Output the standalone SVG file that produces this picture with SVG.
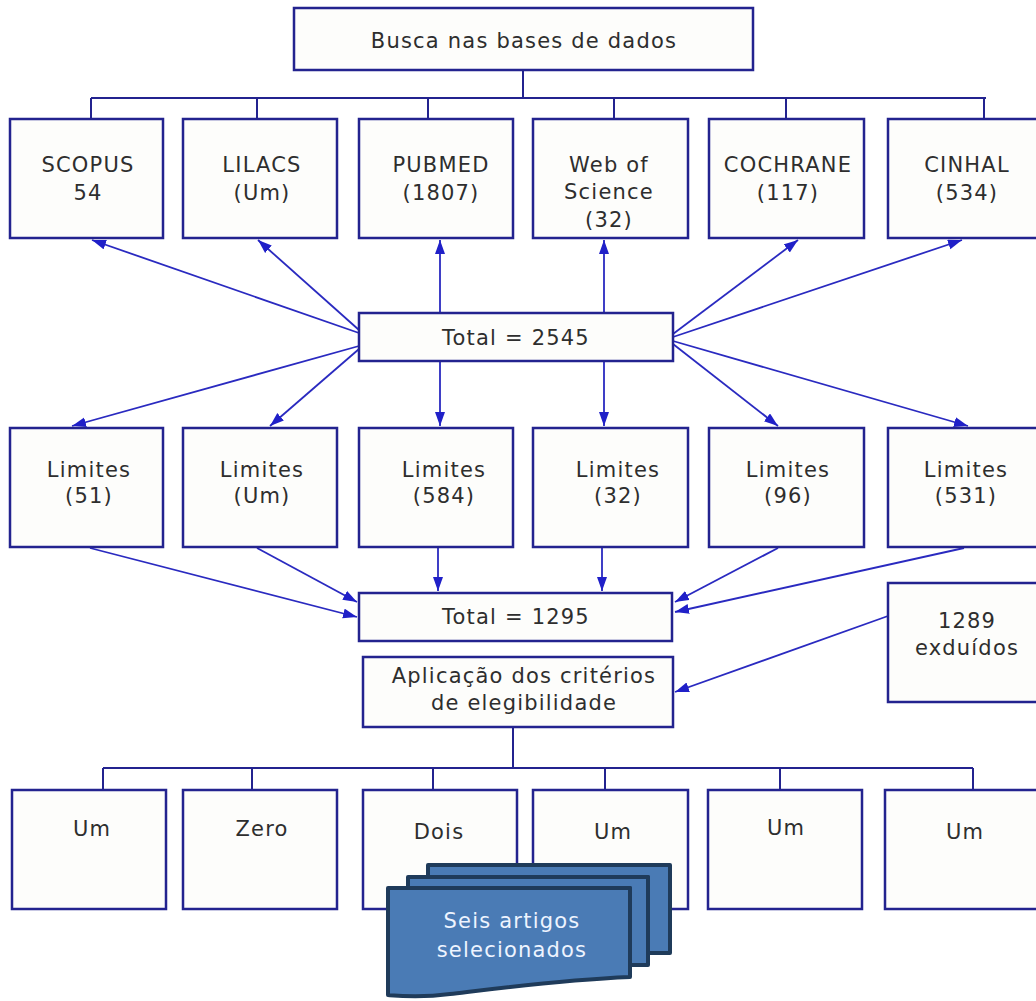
<svg xmlns="http://www.w3.org/2000/svg" width="1036" height="1001" viewBox="0 0 1036 1001">
<defs>
<style>
.box{fill:#fdfdfb;stroke:#23238f;stroke-width:2.5}
.t{font-family:"DejaVu Sans","Verdana",sans-serif;font-size:21px;letter-spacing:1.2px;fill:#2e2e2e;text-anchor:middle}
.ln{fill:none;stroke:#23238f;stroke-width:2}
.ar{fill:none;stroke:#2a2ac0;stroke-width:1.8;marker-end:url(#ah)}
.doc{fill:#4a7bb5;stroke:#1f3b5a;stroke-width:4;stroke-linejoin:round}
.dt{font-family:"DejaVu Sans","Verdana",sans-serif;font-size:21px;letter-spacing:1.2px;fill:#eef4ff;text-anchor:middle}
</style>
<marker id="ah" markerUnits="userSpaceOnUse" markerWidth="16" markerHeight="12" refX="14" refY="5" orient="auto">
<path d="M0,0 L14,5 L0,10 z" fill="#2020c8"/>
</marker>
</defs>
<rect width="1036" height="1001" fill="#ffffff"/>

<g id="connectors">
<path class="ln" d="M523,70 V98 M91,98 H986 M91,98 V119 M257,98 V119 M428,98 V119 M614,98 V119 M786,98 V119 M984,98 V119"/>
<path class="ar" d="M359,333 L92,240"/>
<path class="ar" d="M359,330 L258,240"/>
<path class="ar" d="M440,313 V240"/>
<path class="ar" d="M604,313 V240"/>
<path class="ar" d="M673,334 L798,240"/>
<path class="ar" d="M673,337 L962,240"/>
<path class="ar" d="M359,346 L72,426"/>
<path class="ar" d="M359,349 L270,426"/>
<path class="ar" d="M440,361 V426"/>
<path class="ar" d="M604,361 V426"/>
<path class="ar" d="M673,344 L778,426"/>
<path class="ar" d="M673,341 L968,426"/>
<path class="ar" d="M90,548 L357,617"/>
<path class="ar" d="M257,548 L357,602"/>
<path class="ar" d="M438,548 V591"/>
<path class="ar" d="M602,548 V591"/>
<path class="ar" d="M778,548 L675,602"/>
<path class="ar" d="M964,548 L675,612"/>
<path class="ar" d="M888,616 L675,692"/>
<path class="ln" d="M513,727 V768 M103,768 H973 M103,768 V790 M252,768 V790 M433,768 V790 M605,768 V790 M780,768 V790 M973,768 V790"/>
</g>

<g id="n-busca"><rect class="box" x="294" y="8" width="459" height="62"/><text class="t" x="524" y="48">Busca nas bases de dados</text></g>

<g id="n-scopus"><rect class="box" x="10" y="119" width="153" height="119"/><text class="t" x="88" y="172">SCOPUS</text><text class="t" x="88" y="200">54</text></g>
<g id="n-lilacs"><rect class="box" x="183" y="119" width="154" height="119"/><text class="t" x="262" y="172">LILACS</text><text class="t" x="262" y="200">(Um)</text></g>
<g id="n-pubmed"><rect class="box" x="359" y="119" width="154" height="119"/><text class="t" x="441" y="172">PUBMED</text><text class="t" x="441" y="200">(1807)</text></g>
<g id="n-wos"><rect class="box" x="533" y="119" width="155" height="119"/><text class="t" x="609" y="172">Web of</text><text class="t" x="609" y="199">Science</text><text class="t" x="609" y="227">(32)</text></g>
<g id="n-cochrane"><rect class="box" x="709" y="119" width="155" height="119"/><text class="t" x="788" y="172">COCHRANE</text><text class="t" x="788" y="200">(117)</text></g>
<g id="n-cinhal"><rect class="box" x="888" y="119" width="160" height="119"/><text class="t" x="967" y="172">CINHAL</text><text class="t" x="967" y="200">(534)</text></g>

<g id="n-total1"><rect class="box" x="359" y="313" width="314" height="48"/><text class="t" x="516" y="345">Total = 2545</text></g>

<g id="n-lim1"><rect class="box" x="10" y="428" width="153" height="119"/><text class="t" x="89" y="477">Limites</text><text class="t" x="89" y="503">(51)</text></g>
<g id="n-lim2"><rect class="box" x="183" y="428" width="154" height="119"/><text class="t" x="262" y="477">Limites</text><text class="t" x="262" y="503">(Um)</text></g>
<g id="n-lim3"><rect class="box" x="359" y="428" width="154" height="119"/><text class="t" x="444" y="477">Limites</text><text class="t" x="444" y="503">(584)</text></g>
<g id="n-lim4"><rect class="box" x="533" y="428" width="155" height="119"/><text class="t" x="618" y="477">Limites</text><text class="t" x="618" y="503">(32)</text></g>
<g id="n-lim5"><rect class="box" x="709" y="428" width="155" height="119"/><text class="t" x="788" y="477">Limites</text><text class="t" x="788" y="503">(96)</text></g>
<g id="n-lim6"><rect class="box" x="888" y="428" width="160" height="119"/><text class="t" x="966" y="477">Limites</text><text class="t" x="966" y="503">(531)</text></g>

<g id="n-total2"><rect class="box" x="359" y="593" width="313" height="48"/><text class="t" x="516" y="624">Total = 1295</text></g>
<g id="n-excl"><rect class="box" x="888" y="583" width="160" height="119"/><text class="t" x="967" y="628">1289</text><text class="t" x="967" y="655">exduídos</text></g>
<g id="n-aplic"><rect class="box" x="363" y="657" width="310" height="70"/><text class="t" x="524" y="683">Aplicação dos critérios</text><text class="t" x="524" y="710">de elegibilidade</text></g>

<g id="n-r1"><rect class="box" x="12" y="790" width="154" height="119"/><text class="t" x="92" y="836">Um</text></g>
<g id="n-r2"><rect class="box" x="183" y="790" width="154" height="119"/><text class="t" x="262" y="836">Zero</text></g>
<g id="n-r3"><rect class="box" x="363" y="790" width="154" height="119"/><text class="t" x="439" y="839">Dois</text></g>
<g id="n-r4"><rect class="box" x="533" y="790" width="155" height="119"/><text class="t" x="613" y="839">Um</text></g>
<g id="n-r5"><rect class="box" x="708" y="790" width="154" height="119"/><text class="t" x="786" y="835">Um</text></g>
<g id="n-r6"><rect class="box" x="885" y="790" width="160" height="119"/><text class="t" x="965" y="839">Um</text></g>

<g id="n-seis">
<path class="doc" d="M428,865 H670 V953 H648 V877 H428 Z"/>
<path class="doc" d="M408,877 H648 V965 H630 V888 H408 Z"/>
<path class="doc" d="M388,888 H630 V977 C560,980 500,988 450,994 C420,998 400,996 388,995 Z"/>
<text class="dt" x="512" y="928">Seis artigos</text>
<text class="dt" x="512" y="957">selecionados</text>
</g>
</svg>
